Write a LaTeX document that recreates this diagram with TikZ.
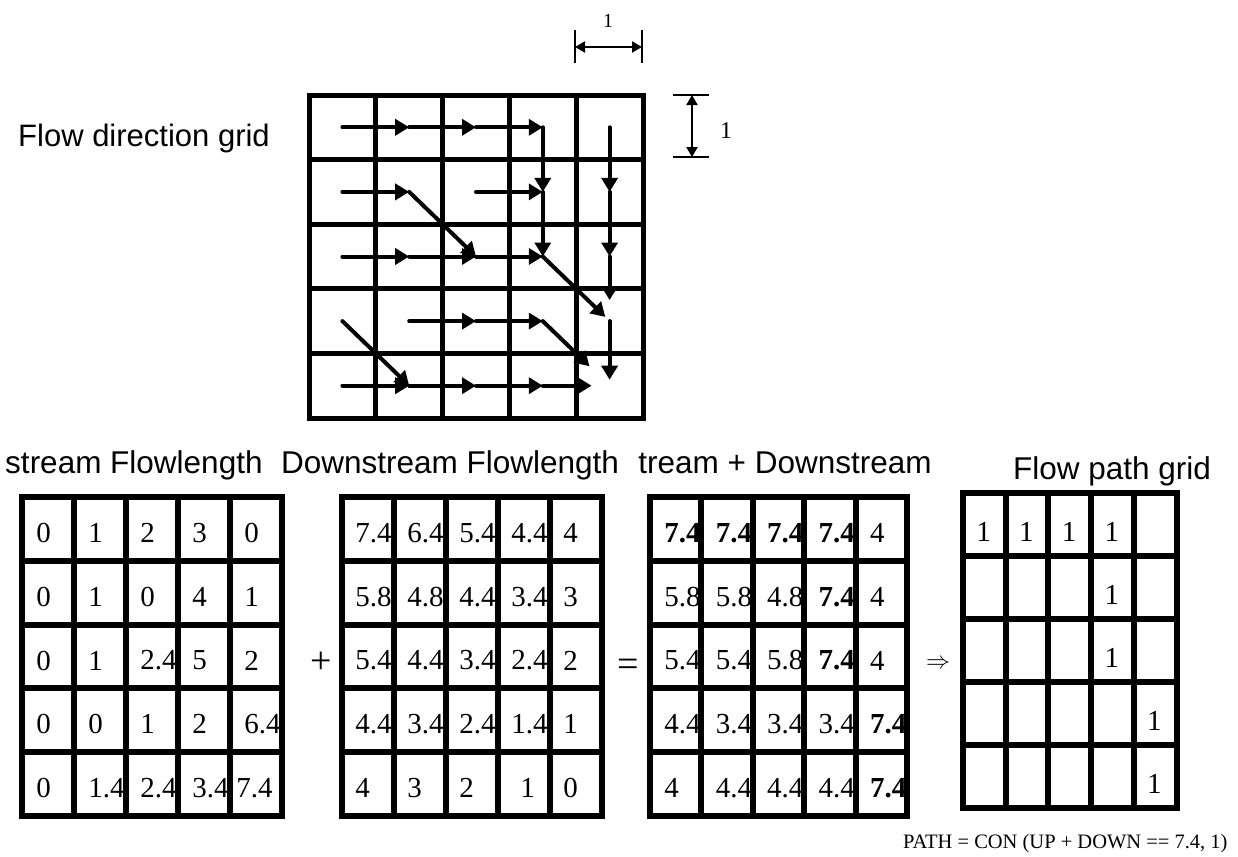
\documentclass[tikz,border=0pt]{standalone}
\usepackage{fontspec}
\setmainfont{Liberation Serif}
\setsansfont{Liberation Sans}
\usetikzlibrary{arrows.meta}

\begin{document}
\begin{tikzpicture}[x=0.5pt,y=-0.5pt,
  topgrid/.style={line width=2.5pt},
  gridline/.style={line width=3pt},
  flowarr/.style={line width=2pt,line cap=round,-{Triangle[length=7pt,width=8pt]}},
  dimline/.style={line width=1pt},
  dimarr/.style={line width=1pt,{Triangle[length=5pt,width=5.5pt]}-{Triangle[length=5pt,width=5.5pt]}},
  celltext/.style={anchor=west,inner sep=0pt,font=\fontsize{14.5pt}{14.5pt}\selectfont},
  title/.style={anchor=base,inner sep=0pt,font=\sffamily\fontsize{15.75pt}{16pt}\selectfont},
  opsign/.style={inner sep=0pt,font=\fontsize{19pt}{19pt}\selectfont}]
\useasboundingbox (0,0) rectangle (1238,857);

\draw[topgrid] (309,95) rectangle (643,418);
\foreach \i in {1,...,4} {
  \draw[topgrid] (309+\i*66.8,95) -- (309+\i*66.8,418);
  \draw[topgrid] (309,95+\i*64.6) -- (643,95+\i*64.6);
}
\foreach \c in {0,...,4}
  \foreach \r in {0,...,4}
    \coordinate (fd-\c-\r) at (342.4+\c*66.8,127.3+\r*64.6);
\foreach \a/\b in {0-0/1-0,1-0/2-0,2-0/3-0,3-0/3-1,3-1/3-2,4-0/4-1,4-1/4-2,
    0-1/1-1,1-1/2-2,2-1/3-1,0-2/1-2,1-2/2-2,2-2/3-2,
    0-3/1-4,1-3/2-3,2-3/3-3,0-4/1-4,1-4/2-4,2-4/3-4}
  \draw[flowarr] (fd-\a) -- (fd-\b);
\draw[flowarr,shorten >=10.5pt] (fd-4-2) -- (fd-4-3);
\draw[flowarr,shorten >=3pt] (fd-3-2) -- (fd-4-3);
\draw[flowarr,shorten >=3pt] (fd-4-3) -- (fd-4-4);
\draw[flowarr,shorten >=14pt] (fd-3-3) -- (fd-4-4);
\draw[flowarr,shorten >=9pt] (fd-3-4) -- (fd-4-4);

\coordinate (dimL) at (575,47);
\coordinate (dimR) at (642,47);
\draw[dimline] (575,30) -- (575,63);
\draw[dimline] (642,30) -- (642,63);
\draw[dimarr] (dimL) -- (dimR);
\node[font=\fontsize{10pt}{10pt}\selectfont] (dimtop) at (608,21) {1};
\coordinate (dimT) at (692,95);
\coordinate (dimB) at (692,157);
\draw[dimline] (673,95) -- (709,95);
\draw[dimline] (673,157) -- (709,157);
\draw[dimarr] (dimT) -- (dimB);
\node[font=\fontsize{12pt}{12pt}\selectfont] (dimright) at (726,131) {1};

\node[title,font=\sffamily\fontsize{15.5pt}{16pt}\selectfont] (fdtitle) at (144,146) {Flow direction grid};
\node[title,anchor=base east] (uptitle) at (263,473) {stream Flowlength};
\node[title] (downtitle) at (450,473) {Downstream Flowlength};
\node[title] (sumtitle) at (785,473) {tream + Downstream};
\node[title] (pathtitle) at (1112,479) {Flow path grid};

\foreach \gx/\gy/\gw/\gh in {22/497/52/63.8,342/497/52/63.8,650/497/51.4/63.8,963/493/42.7/63} {
  \draw[gridline] (\gx,\gy) rectangle ++(5*\gw,5*\gh);
  \foreach \i in {1,...,4} {
    \draw[gridline] (\gx+\i*\gw,\gy) -- ++(0,5*\gh);
    \draw[gridline] (\gx,\gy+\i*\gh) -- ++(5*\gw,0);
  }
}

\foreach \row [count=\r from 0] in {{0,1,2,3,0},{0,1,0,4,1},{0,1,2.4,5,2},{0,0,1,2,6.4},{0,1.4,2.4,3.4,\kern-4pt 7.4}}
  \foreach \val [count=\c from 0] in \row
    \node[celltext] (up-\c-\r) at (22+\c*52+14,497+\r*63.8+35.9) {\val};
\foreach \row [count=\r from 0] in {{7.4,6.4,5.4,4.4,4},{5.8,4.8,4.4,3.4,3},{5.4,4.4,3.4,2.4,2},{4.4,3.4,2.4,1.4,1},{4,3,2,\kern4.5pt 1,0}}
  \foreach \val [count=\c from 0] in \row
    \node[celltext] (dn-\c-\r) at (342+\c*52+13,497+\r*63.8+35.9) {\val};
\foreach \row [count=\r from 0] in {{\textbf{7.4},\textbf{7.4},\textbf{7.4},\textbf{7.4},4},{5.8,5.8,4.8,\textbf{7.4},4},{5.4,5.4,5.8,\textbf{7.4},4},{4.4,3.4,3.4,3.4,\textbf{7.4}},{4,4.4,4.4,4.4,\textbf{7.4}}}
  \foreach \val [count=\c from 0] in \row
    \node[celltext] (sm-\c-\r) at (650+\c*51.4+14,497+\r*63.8+35.9) {\val};
\foreach \c/\r in {0/0,1/0,2/0,3/0,3/1,3/2,4/3,4/4}
  \node[celltext] (fp-\c-\r) at (963+\c*42.7+13,493+\r*63+38.5) {1};

\node[opsign] (plus) at (321,663) {+};
\node[opsign] (equals) at (628,668) {=};
\node[inner sep=0pt] (implies) at (938,664) {\fontsize{13pt}{13pt}\selectfont$\Rightarrow$};
\node[anchor=base east,inner sep=0pt,font=\fontsize{10.25pt}{11pt}\selectfont] (pathrule) at (1228,848) {PATH = CON (UP + DOWN == 7.4, 1)};
\end{tikzpicture}
\end{document}
